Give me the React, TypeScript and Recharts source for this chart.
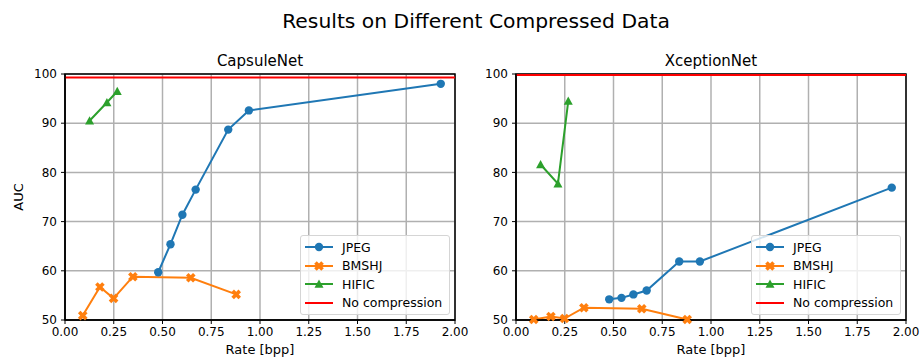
import React from "react";
import {
  LineChart,
  Line,
  XAxis,
  YAxis,
  CartesianGrid,
  ReferenceLine,
  ReferenceArea,
} from "recharts";

const FONT = "'DejaVu Sans', sans-serif";

const BLUE = "#1f77b4";
const ORANGE = "#ff7f0e";
const GREEN = "#2ca02c";
const RED = "#ff0000";

// rates (bpp) shared by both models
const jpegRate = [0.478, 0.541, 0.602, 0.67, 0.837, 0.943, 1.927];
const bmshjRate = [0.091, 0.179, 0.249, 0.348, 0.645, 0.878];
const hificRate = [0.126, 0.215, 0.268];

// CapsuleNet AUC
const capsJpeg = [59.7, 65.4, 71.4, 76.5, 88.7, 92.6, 98.0];
const capsBmshj = [50.9, 56.7, 54.4, 58.8, 58.6, 55.2];
const capsHific = [90.5, 94.2, 96.5];
const capsNoComp = 99.3;

// XceptionNet AUC
const xcepJpeg = [54.2, 54.5, 55.2, 56.0, 61.9, 61.9, 76.9];
const xcepBmshj = [50.1, 50.7, 50.3, 52.5, 52.3, 50.1];
const xcepHific = [81.6, 77.7, 94.5];
const xcepNoComp = 99.8;

const xTicks = [0, 0.25, 0.5, 0.75, 1, 1.25, 1.5, 1.75, 2];
const yTicks = [50, 60, 70, 80, 90, 100];

const zip = (xs: number[], ys: number[]) => xs.map((x, i) => ({ x, y: ys[i] }));

const CircleDot = (props: any) => {
  const { cx, cy, fill, index } = props;
  if (cx == null || cy == null) return null;
  return <circle key={index} cx={cx} cy={cy} r={4.2} fill={fill} />;
};

const XDot = (props: any) => {
  const { cx, cy, fill, index } = props;
  if (cx == null || cy == null) return null;
  return (
    <g key={index} transform={`translate(${cx},${cy}) rotate(45)`}>
      <rect x={-5} y={-1.8} width={10} height={3.6} fill={fill} />
      <rect x={-1.8} y={-5} width={3.6} height={10} fill={fill} />
    </g>
  );
};

const TriDot = (props: any) => {
  const { cx, cy, fill, index } = props;
  if (cx == null || cy == null) return null;
  return (
    <polygon
      key={index}
      points={`${cx},${cy - 4.5} ${cx - 4.5},${cy + 3.8} ${cx + 4.5},${cy + 3.8}`}
      fill={fill}
    />
  );
};

const legendItems = [
  { label: "JPEG", color: BLUE, marker: "circle" },
  { label: "BMSHJ", color: ORANGE, marker: "x" },
  { label: "HIFIC", color: GREEN, marker: "tri" },
  { label: "No compression", color: RED, marker: "none" },
];

function LegendBox({ left, top }: { left: number; top: number }) {
  return (
    <div
      style={{
        position: "absolute",
        left,
        top,
        background: "rgba(255,255,255,0.8)",
        border: "1px solid #d5d5d5",
        borderRadius: 3,
        padding: "2px 7px 2px 4px",
        fontFamily: FONT,
        fontSize: 12.5,
        color: "#000",
      }}
    >
      {legendItems.map((it) => (
        <div key={it.label} style={{ display: "flex", alignItems: "center", height: 18.5 }}>
          <svg width={28} height={10} style={{ marginRight: 9 }}>
            <line x1={0} y1={5} x2={28} y2={5} stroke={it.color} strokeWidth={2} />
            {it.marker === "circle" && <CircleDot cx={14} cy={5} fill={it.color} />}
            {it.marker === "x" && <XDot cx={14} cy={5} fill={it.color} />}
            {it.marker === "tri" && <TriDot cx={14} cy={5} fill={it.color} />}
          </svg>
          <span>{it.label}</span>
        </div>
      ))}
    </div>
  );
}

function Panel({
  jpeg,
  bmshj,
  hific,
  noComp,
  width,
  margin,
  yLabel,
}: {
  jpeg: number[];
  bmshj: number[];
  hific: number[];
  noComp: number;
  width: number;
  margin: { top: number; right: number; bottom: number; left: number };
  yLabel?: string;
}) {
  const tickStyle = { fill: "#000", fontSize: 12, fontFamily: FONT };
  return (
    <LineChart width={width} height={358} margin={margin}>
      <CartesianGrid stroke="#b0b0b0" strokeWidth={1.5} />
      <XAxis
        dataKey="x"
        type="number"
        domain={[0, 2]}
        ticks={xTicks}
        tickFormatter={(v) => Number(v).toFixed(2)}
        allowDuplicatedCategory={false}
        height={20}
        tickSize={4}
        tickMargin={3}
        tick={tickStyle}
        stroke="#000"
        axisLine={{ stroke: "#000", strokeWidth: 1.5 }}
        tickLine={{ stroke: "#000" }}
        label={{
          value: "Rate [bpp]",
          position: "bottom",
          offset: 5,
          style: { fill: "#000", fontSize: 13, fontFamily: FONT },
        }}
      />
      <YAxis
        type="number"
        domain={[50, 100]}
        ticks={yTicks}
        width={45}
        tickSize={4}
        tickMargin={4}
        tick={tickStyle}
        stroke="#000"
        axisLine={{ stroke: "#000", strokeWidth: 1.5 }}
        tickLine={{ stroke: "#000" }}
        label={
          yLabel
            ? {
                value: yLabel,
                angle: -90,
                position: "left",
                offset: 2,
                style: { fill: "#000", fontSize: 13, fontFamily: FONT, textAnchor: "middle" },
              }
            : undefined
        }
      />
      <ReferenceArea x1={0} x2={2} y1={50} y2={100} fill="none" stroke="#000" strokeWidth={1.5} />
      <ReferenceLine y={noComp} stroke={RED} strokeWidth={2} />
      <Line
        data={zip(jpegRate, jpeg)}
        dataKey="y"
        stroke={BLUE}
        strokeWidth={2}
        fill={BLUE}
        dot={<CircleDot />}
        isAnimationActive={false}
      />
      <Line
        data={zip(bmshjRate, bmshj)}
        dataKey="y"
        stroke={ORANGE}
        strokeWidth={2}
        fill={ORANGE}
        dot={<XDot />}
        isAnimationActive={false}
      />
      <Line
        data={zip(hificRate, hific)}
        dataKey="y"
        stroke={GREEN}
        strokeWidth={2}
        fill={GREEN}
        dot={<TriDot />}
        isAnimationActive={false}
      />
    </LineChart>
  );
}

export default function App() {
  const subTitle = {
    position: "absolute" as const,
    top: 52,
    fontFamily: FONT,
    fontSize: 15,
    textAlign: "center" as const,
    color: "#000",
  };
  return (
    <div
      style={{
        position: "absolute",
        left: 0,
        top: 0,
        width: 922,
        height: 358,
        background: "#fff",
        fontFamily: FONT,
      }}
    >
      <div style={{ position: "absolute", left: 460, top: 0 }}>
        <Panel
          jpeg={xcepJpeg}
          bmshj={xcepBmshj}
          hific={xcepHific}
          noComp={xcepNoComp}
          width={462}
          margin={{ top: 74, right: 16, bottom: 18, left: 11 }}
        />
      </div>
      <div style={{ position: "absolute", left: 0, top: 0 }}>
        <Panel
          jpeg={capsJpeg}
          bmshj={capsBmshj}
          hific={capsHific}
          noComp={capsNoComp}
          width={480}
          margin={{ top: 74, right: 25, bottom: 18, left: 20 }}
          yLabel="AUC"
        />
      </div>

      <div
        style={{
          position: "absolute",
          left: 15,
          top: 9,
          width: 922,
          textAlign: "center",
          fontSize: 20.3,
          color: "#000",
        }}
      >
        Results on Different Compressed Data
      </div>
      <div style={{ ...subTitle, left: 65, width: 390 }}>CapsuleNet</div>
      <div style={{ ...subTitle, left: 516, width: 390 }}>XceptionNet</div>

      <LegendBox left={300} top={235} />
      <LegendBox left={751} top={235} />
    </div>
  );
}
